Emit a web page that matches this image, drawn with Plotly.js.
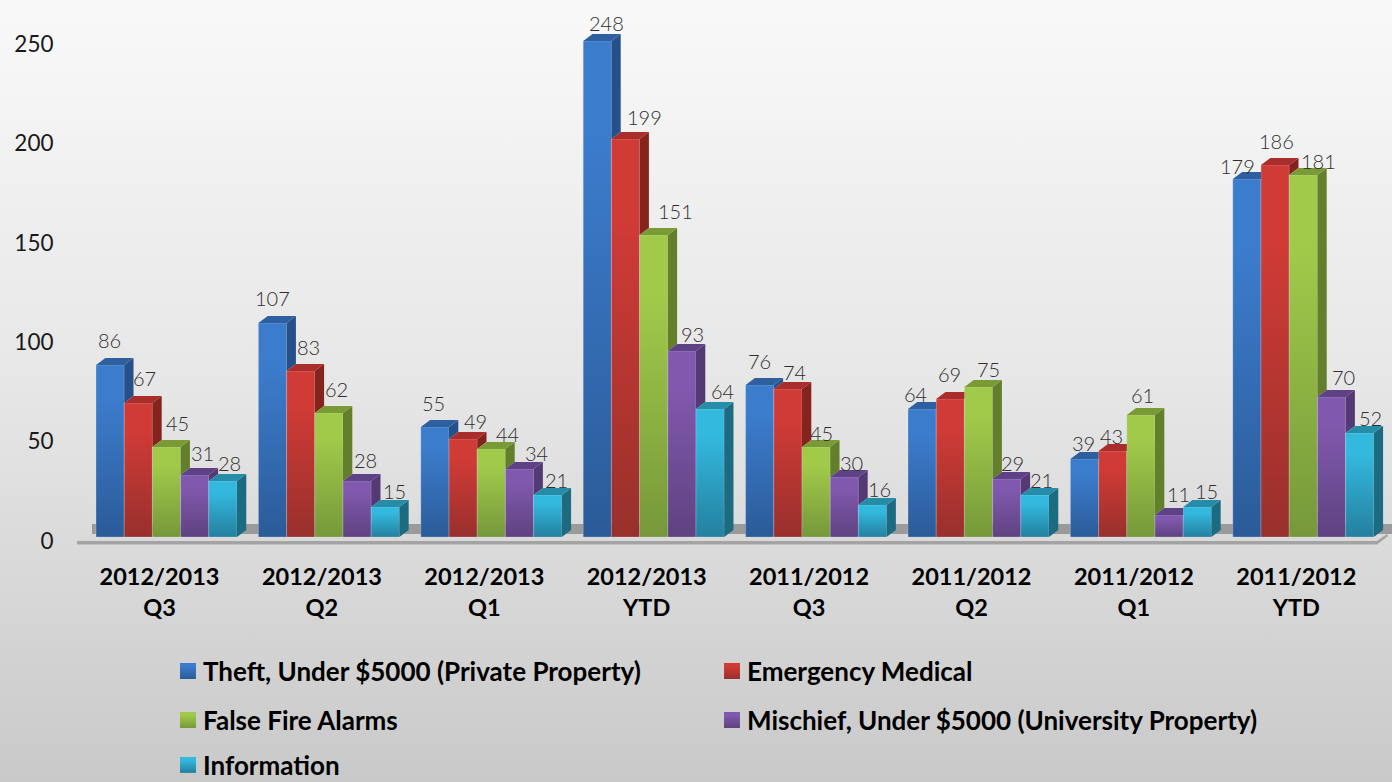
<!DOCTYPE html>
<html><head><meta charset="utf-8">
<script src="https://cdn.plot.ly/plotly-3.0.1.min.js"></script>
<style>
html,body{margin:0;padding:0;width:1392px;height:782px;overflow:hidden;background:linear-gradient(180deg,#f9f9f9 0%,#e6e6e6 50%,#c9c9c9 100%);}
#chart{width:1392px;height:782px;}
</style></head><body><div id="chart"></div>
<script>
const categories=["2012/2013<br>Q3","2012/2013<br>Q2","2012/2013<br>Q1","2012/2013<br>YTD","2011/2012<br>Q3","2011/2012<br>Q2","2011/2012<br>Q1","2011/2012<br>YTD"];
const seriesNames=["Theft, Under $5000 (Private Property)","Emergency Medical","False Fire Alarms","Mischief, Under $5000 (University Property)","Information"];
const theft=[86,107,55,248,76,64,39,179];
const medical=[67,83,49,199,74,69,43,186];
const alarms=[45,62,44,151,45,75,61,181];
const mischief=[31,28,34,93,30,29,11,70];
const information=[28,15,21,64,16,21,15,52];
const yTicks=[0,50,100,150,200,250];
const seriesValues=[theft,medical,alarms,mischief,information];

// styling: [front top, front bottom, side, top face]
const palette=[
 ["#3c7ccc","#2b5b98","#25508a","#2e5f9f"],
 ["#d13b36","#98302c","#85241f","#a92d2a"],
 ["#a1ca4a","#76983a","#637f2c","#7a9a35"],
 ["#8059ae","#5f4280","#543a75","#5f4285"],
 ["#33b9de","#24809f","#1d6b80","#278ca8"]];
// label nudges (px) by series then group
const labelDX=[[-1,0,-1,9,0,-7,-1,-9],[6,8,12,19,7,-1,-1,1],[11,8,16,22,5,10,2,15],[7.5,8,17,11,7,6,9,12],[7,9,9,12,7,7,9,11]];
const labelDY=[[25,25,24,18,24,15,16,13],[25,24,18,22,17,25,15,24],[24,24,15,24,14,18,20,14],[22,21,16,17,14,16,21,20],[18,16,15,18,16,15,16,15]];

// geometry
const W=1392,H=782,plotL=70,plotB=548,baseY=537,pxPerVal=2,pitch=162.4,firstCentre=166.5,groupFrac=0.868;
const barW=groupFrac/5, dxD=9.3/pitch, dyD=7/pxPerVal;
const X=p=>(p-firstCentre)/pitch, Y=p=>(baseY-p)/pxPerVal;
const groups=categories.map((_,i)=>i);
const legendIds=["legend","legend2","legend3","legend4","legend5"];
const yTickPos=yTicks.map(v=>v-2-v*0.006);

const traces=[];
seriesValues.forEach((vals,s)=>{
  traces.push({type:"bar",x:groups,y:vals,name:seriesNames[s],offsetgroup:String(s),legend:legendIds[s],
    marker:{color:palette[s][0],line:{width:0.6,color:"rgba(210,225,240,0.45)"}},hoverinfo:"skip"});
});
seriesValues.forEach((vals,s)=>{
  const sx=[],sy=[],tx=[],ty=[];
  vals.forEach((v,g)=>{
    const l=g+(s-2.5)*barW, r=l+barW;
    const next=s<4?seriesValues[s+1][g]:0;
    if(next<v){
      sx.push(r,r,r+dxD,r+dxD,r,null);
      sy.push(next,v,v+dyD,next+dyD,next,null);
    }
    tx.push(l,r);ty.push(v,v);
    if(next>v){tx.push(r,l+dxD,l);ty.push(v+dyD,v+dyD,v);}
    else{tx.push(r+dxD,l+dxD,l);ty.push(v+dyD,v+dyD,v);}
    tx.push(null);ty.push(null);
  });
  traces.push({type:"scatter",mode:"lines",x:sx,y:sy,fill:"toself",fillcolor:palette[s][2],line:{width:0},showlegend:false,hoverinfo:"skip"});
  traces.push({type:"scatter",mode:"lines",x:tx,y:ty,fill:"toself",fillcolor:palette[s][3],line:{width:0},showlegend:false,hoverinfo:"skip"});
});

const annotations=[];
seriesValues.forEach((vals,s)=>vals.forEach((v,g)=>{
  annotations.push({x:g+(s-2)*barW,y:v,xref:"x",yref:"y",text:String(v),showarrow:false,xanchor:"center",yanchor:"middle",
    xshift:labelDX[s][g],yshift:labelDY[s][g],font:{family:"Lato",size:20,color:"#2e2e2e",weight:300}});
}));

const poly=(pts,fill)=>({type:"path",xref:"x",yref:"y",layer:"below",line:{width:0},fillcolor:fill,
  path:"M"+pts.map(p=>X(p[0])+","+Y(p[1])).join("L")+"Z"});
const shapes=[
  poly([[92,524],[1392,524],[1392,534],[92,534]],"#9a9a9a"),
  poly([[92,534],[1387,534],[1377,541],[77,541]],"#d9d9d9"),
  poly([[77,541],[1377,541],[1387,534],[1388,536],[1377,544.5],[77,544.5]],"#a3a3a3")
];
const legendBase={xanchor:"left",yanchor:"middle",bgcolor:"rgba(0,0,0,0)",
  font:{family:"Lato",size:26,color:"#000",weight:700},itemclick:false,itemdoubleclick:false};
const legPos=py=>(plotB-py)/plotB;
const legX=px=>(px-plotL)/(W-plotL);

const layout={width:W,height:H,paper_bgcolor:"rgba(0,0,0,0)",plot_bgcolor:"rgba(0,0,0,0)",
  margin:{l:plotL,r:0,t:0,b:H-plotB,pad:0,autoexpand:false},
  barmode:"group",bargap:1-groupFrac,bargroupgap:0,showlegend:true,
  xaxis:{range:[X(plotL),X(W)],tickmode:"array",tickvals:groups,ticktext:categories,showgrid:false,zeroline:false,showline:false,
    ticks:"outside",ticklen:8,tickcolor:"rgba(0,0,0,0)",
    tickangle:0,ticklabelshift:-7,tickfont:{family:"Lato",size:23.5,color:"#000",weight:700},automargin:false},
  yaxis:{range:[Y(plotB),Y(0)],tickmode:"array",tickvals:yTickPos,ticktext:yTicks.map(String),showgrid:false,zeroline:false,showline:false,
    ticks:"outside",ticklen:11,tickcolor:"rgba(0,0,0,0)",
    ticklabelshift:9.5,tickfont:{family:"Lato",size:22.5,color:"#1a1a1a"},automargin:false},
  shapes,annotations,
  legend:Object.assign({},legendBase,{x:legX(163),y:legPos(671)}),
  legend2:Object.assign({},legendBase,{x:legX(707),y:legPos(671)}),
  legend3:Object.assign({},legendBase,{x:legX(163),y:legPos(720)}),
  legend4:Object.assign({},legendBase,{x:legX(707),y:legPos(720)}),
  legend5:Object.assign({},legendBase,{x:legX(163),y:legPos(765)})
};

function addGradients(gd){
  const svg=gd.querySelector(".main-svg"), ns="http://www.w3.org/2000/svg";
  let defs=svg.querySelector("defs"); if(!defs){defs=document.createElementNS(ns,"defs");svg.prepend(defs);}
  palette.forEach((p,i)=>{
    const g=document.createElementNS(ns,"linearGradient");
    g.setAttribute("id","frontGrad"+i);g.setAttribute("x1","0");g.setAttribute("y1","0");g.setAttribute("x2","0");g.setAttribute("y2","1");
    [[0,p[0]],[0.2,p[0]],[1,p[1]]].forEach(c=>{const st=document.createElementNS(ns,"stop");st.setAttribute("offset",c[0]);st.setAttribute("stop-color",c[1]);g.appendChild(st);});
    defs.appendChild(g);
  });
  gd.querySelectorAll(".barlayer .trace.bars").forEach((t,i)=>{
    t.querySelectorAll(".point path").forEach(p=>p.style.setProperty("fill","url(#frontGrad"+i+")"));
  });
  gd.querySelectorAll(legendIds.map(l=>"."+l+" .traces").join(",")).forEach(t=>{
    const idx=seriesNames.indexOf(t.textContent.trim());
    const pts=t.querySelector(".legendpoints");
    if(pts&&idx>=0){
      pts.querySelectorAll("path").forEach(p=>{p.style.setProperty("fill","url(#frontGrad"+idx+")");p.style.setProperty("stroke-width","0");});
      pts.setAttribute("transform","translate(-1.6,0) scale(1.33)");
    }
  });
}
const gd=document.getElementById("chart");
Plotly.newPlot(gd,traces,layout,{displayModeBar:false,staticPlot:true}).then(()=>addGradients(gd));
</script></body></html>
